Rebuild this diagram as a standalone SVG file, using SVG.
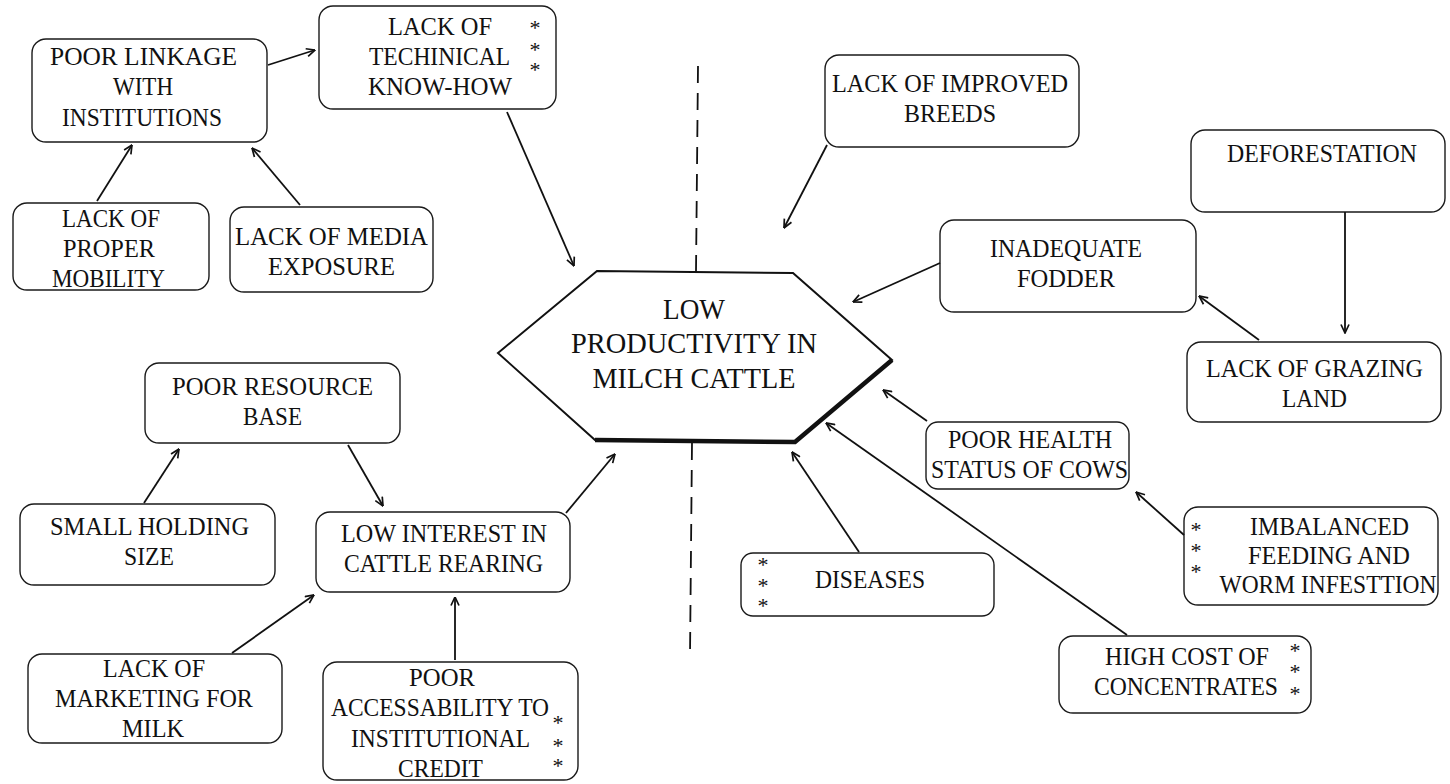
<svg xmlns="http://www.w3.org/2000/svg" width="1450" height="784" viewBox="0 0 1450 784">
  <style>
    .box { fill: #ffffff; stroke: #1a1a1a; stroke-width: 1.4; }
    .t { font-family: "Liberation Serif", "Times New Roman", serif; font-size: 26px; fill: #111; text-anchor: middle; }
    .ht { font-family: "Liberation Serif", "Times New Roman", serif; font-size: 30px; fill: #111; text-anchor: middle; }
    .ast { font-family: "Liberation Serif", "Times New Roman", serif; font-size: 22px; fill: #111; text-anchor: middle; }
    .conn line { stroke: #111; stroke-width: 1.8; marker-end: url(#arrow); }
    .divider { stroke: #111; stroke-width: 1.8; stroke-dasharray: 17 10; fill: none; }
  </style>
  <defs>
    <marker id="arrow" viewBox="0 0 10 10" refX="9.5" refY="5" markerWidth="10" markerHeight="10" markerUnits="userSpaceOnUse" orient="auto">
      <path d="M1,1 L9.5,5 L1,9" fill="none" stroke="#111" stroke-width="1.7"/>
    </marker>
  </defs>
  <rect width="1450" height="784" fill="#ffffff"/>

  <!-- vertical dashed divider above and below the central node -->
  <g id="divider">
    <path class="divider" d="M698,66 L696,272"/>
    <path class="divider" d="M692,443 L690,656"/>
  </g>

  <!-- central problem -->
  <g id="low-productivity">
    <polygon points="498,353 597,271 793,273 892,360 795,442 595,440" fill="#ffffff" stroke="#111" stroke-width="2" stroke-linejoin="miter"/>
    <polyline points="595,440 795,442 892,360" fill="none" stroke="#111" stroke-width="4.5"/>
    <text class="ht" x="694" y="319" textLength="62" lengthAdjust="spacingAndGlyphs">LOW</text>
    <text class="ht" x="694" y="353" textLength="246" lengthAdjust="spacingAndGlyphs">PRODUCTIVITY IN</text>
    <text class="ht" x="694" y="388" textLength="203" lengthAdjust="spacingAndGlyphs">MILCH CATTLE</text>
  </g>

  <g id="poor-linkage">
    <rect class="box" x="32" y="39" width="235" height="103" rx="14"/>
    <text class="t" x="143.5" y="65" textLength="187" lengthAdjust="spacingAndGlyphs">POOR LINKAGE</text>
    <text class="t" x="143" y="95" textLength="60" lengthAdjust="spacingAndGlyphs">WITH</text>
    <text class="t" x="142" y="126" textLength="160" lengthAdjust="spacingAndGlyphs">INSTITUTIONS</text>
  </g>

  <g id="technical-know-how">
    <rect class="box" x="319" y="6" width="237" height="103" rx="14"/>
    <text class="t" x="440" y="35" textLength="104" lengthAdjust="spacingAndGlyphs">LACK OF</text>
    <text class="t" x="439.5" y="65" textLength="141" lengthAdjust="spacingAndGlyphs">TECHINICAL</text>
    <text class="t" x="440" y="95" textLength="144" lengthAdjust="spacingAndGlyphs">KNOW-HOW</text>
    <text class="ast"><tspan x="535" y="35">*</tspan><tspan x="535" y="57">*</tspan><tspan x="535" y="77">*</tspan></text>
  </g>

  <g id="proper-mobility">
    <rect class="box" x="13" y="203" width="196" height="87" rx="14"/>
    <text class="t" x="111" y="227" textLength="98" lengthAdjust="spacingAndGlyphs">LACK OF</text>
    <text class="t" x="109" y="257" textLength="92" lengthAdjust="spacingAndGlyphs">PROPER</text>
    <text class="t" x="108.5" y="287" textLength="113" lengthAdjust="spacingAndGlyphs">MOBILITY</text>
  </g>

  <g id="media-exposure">
    <rect class="box" x="230" y="207" width="203" height="85" rx="14"/>
    <text class="t" x="331.5" y="245" textLength="193" lengthAdjust="spacingAndGlyphs">LACK OF MEDIA</text>
    <text class="t" x="331.5" y="275" textLength="127" lengthAdjust="spacingAndGlyphs">EXPOSURE</text>
  </g>

  <g id="improved-breeds">
    <rect class="box" x="825" y="55" width="254" height="92" rx="14"/>
    <text class="t" x="950" y="92" textLength="236" lengthAdjust="spacingAndGlyphs">LACK OF IMPROVED</text>
    <text class="t" x="950" y="122" textLength="92" lengthAdjust="spacingAndGlyphs">BREEDS</text>
  </g>

  <g id="deforestation">
    <rect class="box" x="1191" y="130" width="254" height="82" rx="14"/>
    <text class="t" x="1322" y="162" textLength="190" lengthAdjust="spacingAndGlyphs">DEFORESTATION</text>
  </g>

  <g id="inadequate-fodder">
    <rect class="box" x="940" y="220" width="256" height="92" rx="14"/>
    <text class="t" x="1066" y="257" textLength="152" lengthAdjust="spacingAndGlyphs">INADEQUATE</text>
    <text class="t" x="1066" y="287" textLength="98" lengthAdjust="spacingAndGlyphs">FODDER</text>
  </g>

  <g id="grazing-land">
    <rect class="box" x="1187" y="342" width="254" height="80" rx="14"/>
    <text class="t" x="1314.5" y="377" textLength="217" lengthAdjust="spacingAndGlyphs">LACK OF GRAZING</text>
    <text class="t" x="1314.5" y="407" textLength="65" lengthAdjust="spacingAndGlyphs">LAND</text>
  </g>

  <g id="health-status">
    <rect class="box" x="926" y="422" width="203" height="67" rx="12"/>
    <text class="t" x="1030" y="448" textLength="164" lengthAdjust="spacingAndGlyphs">POOR HEALTH</text>
    <text class="t" x="1029.5" y="478" textLength="197" lengthAdjust="spacingAndGlyphs">STATUS OF COWS</text>
  </g>

  <g id="imbalanced-feeding">
    <rect class="box" x="1184" y="507" width="254" height="98" rx="14"/>
    <text class="t" x="1329.5" y="535" textLength="159" lengthAdjust="spacingAndGlyphs">IMBALANCED</text>
    <text class="t" x="1329" y="564" textLength="162" lengthAdjust="spacingAndGlyphs">FEEDING AND</text>
    <text class="t" x="1328" y="593" textLength="217" lengthAdjust="spacingAndGlyphs">WORM INFESTTION</text>
    <text class="ast"><tspan x="1196" y="537">*</tspan><tspan x="1196" y="558">*</tspan><tspan x="1196" y="579">*</tspan></text>
  </g>

  <g id="diseases">
    <rect class="box" x="741" y="553" width="253" height="63" rx="12"/>
    <text class="t" x="870" y="588" textLength="110" lengthAdjust="spacingAndGlyphs">DISEASES</text>
    <text class="ast"><tspan x="763" y="572">*</tspan><tspan x="763" y="593">*</tspan><tspan x="763" y="613">*</tspan></text>
  </g>

  <g id="concentrates">
    <rect class="box" x="1059" y="636" width="252" height="77" rx="14"/>
    <text class="t" x="1187" y="665" textLength="164" lengthAdjust="spacingAndGlyphs">HIGH COST OF</text>
    <text class="t" x="1186" y="695" textLength="184" lengthAdjust="spacingAndGlyphs">CONCENTRATES</text>
    <text class="ast"><tspan x="1295" y="658">*</tspan><tspan x="1295" y="679">*</tspan><tspan x="1295" y="701">*</tspan></text>
  </g>

  <g id="resource-base">
    <rect class="box" x="145" y="363" width="255" height="80" rx="14"/>
    <text class="t" x="272.5" y="395" textLength="201" lengthAdjust="spacingAndGlyphs">POOR RESOURCE</text>
    <text class="t" x="272.5" y="425" textLength="59" lengthAdjust="spacingAndGlyphs">BASE</text>
  </g>

  <g id="holding-size">
    <rect class="box" x="20" y="504" width="255" height="81" rx="14"/>
    <text class="t" x="149.5" y="535" textLength="199" lengthAdjust="spacingAndGlyphs">SMALL HOLDING</text>
    <text class="t" x="149" y="565" textLength="50" lengthAdjust="spacingAndGlyphs">SIZE</text>
  </g>

  <g id="low-interest">
    <rect class="box" x="316" y="512" width="254" height="80" rx="14"/>
    <text class="t" x="444" y="542" textLength="206" lengthAdjust="spacingAndGlyphs">LOW INTEREST IN</text>
    <text class="t" x="443.5" y="572" textLength="199" lengthAdjust="spacingAndGlyphs">CATTLE REARING</text>
  </g>

  <g id="marketing">
    <rect class="box" x="28" y="654" width="254" height="89" rx="14"/>
    <text class="t" x="154" y="677" textLength="102" lengthAdjust="spacingAndGlyphs">LACK OF</text>
    <text class="t" x="154" y="707" textLength="198" lengthAdjust="spacingAndGlyphs">MARKETING FOR</text>
    <text class="t" x="153" y="737" textLength="62" lengthAdjust="spacingAndGlyphs">MILK</text>
  </g>

  <g id="institutional-credit">
    <rect class="box" x="323" y="662" width="255" height="118" rx="14"/>
    <text class="t" x="442" y="686" textLength="66" lengthAdjust="spacingAndGlyphs">POOR</text>
    <text class="t" x="440" y="716" textLength="218" lengthAdjust="spacingAndGlyphs">ACCESSABILITY TO</text>
    <text class="t" x="440.5" y="747" textLength="179" lengthAdjust="spacingAndGlyphs">INSTITUTIONAL</text>
    <text class="t" x="440.5" y="777" textLength="85" lengthAdjust="spacingAndGlyphs">CREDIT</text>
    <text class="ast"><tspan x="558" y="730">*</tspan><tspan x="558" y="753">*</tspan><tspan x="558" y="773">*</tspan></text>
  </g>

  <!-- cause-to-effect connectors -->
  <g id="connectors" class="conn">
    <line x1="268" y1="65" x2="315" y2="50"/>
    <line x1="97" y1="201" x2="132" y2="145"/>
    <line x1="300" y1="205" x2="252" y2="148"/>
    <line x1="507" y1="112" x2="574" y2="266"/>
    <line x1="827" y1="145" x2="784" y2="228"/>
    <line x1="940" y1="263" x2="853" y2="302"/>
    <line x1="1345" y1="212" x2="1345" y2="333"/>
    <line x1="1259" y1="340" x2="1199" y2="296"/>
    <line x1="927" y1="421" x2="883" y2="390"/>
    <line x1="1184" y1="535" x2="1136" y2="492"/>
    <line x1="859" y1="552" x2="792" y2="452"/>
    <line x1="1127" y1="635" x2="826" y2="423"/>
    <line x1="144" y1="503" x2="179" y2="449"/>
    <line x1="348" y1="445" x2="383" y2="506"/>
    <line x1="566" y1="513" x2="615" y2="454"/>
    <line x1="232" y1="653" x2="314" y2="595"/>
    <line x1="455" y1="660" x2="455" y2="597"/>
  </g>
</svg>
